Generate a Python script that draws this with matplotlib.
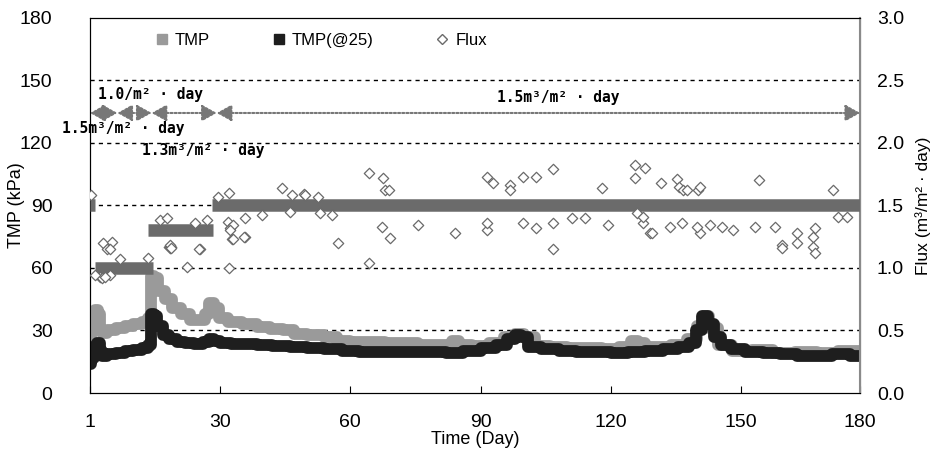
import matplotlib
matplotlib.use('Agg')
from matplotlib import pyplot as plt
from matplotlib.lines import Line2D

plt.rcParams['font.family'] = ['Liberation Sans Narrow', 'Liberation Sans', 'DejaVu Sans']

# TMP (gray): day, kPa
tmp_day = [0, 0.5, 1.0, 1.5, 2.2, 2.6, 3, 5, 7, 9, 11, 13, 13.8, 14.3, 15, 16.5, 18, 20, 22, 24,
           26, 27, 28, 29, 30.5, 33, 37, 40, 43, 46, 48, 52, 56, 58, 62, 66, 70, 74, 77, 80,
           83, 84, 86, 90, 94, 97, 99, 101, 104, 108, 112, 116, 120, 124, 125.5, 127, 129, 132,
           136, 139, 141, 142, 143.5, 146, 150, 155, 160, 165, 170, 175, 177.5]
tmp_val = [24, 31, 38, 40, 38, 30, 29, 30, 31, 32, 33, 34, 36, 56, 55, 49, 45, 41, 38, 35,
           35, 38, 43, 41, 36, 34, 33, 31.5, 30.5, 30, 28.5, 28, 27, 25, 24.5, 24.5, 24, 24, 23, 23,
           23, 25, 23, 22.5, 24, 27, 28.5, 27, 22.5, 22, 21.5, 21.5, 21, 22, 25, 24, 22, 22,
           23, 26, 32, 37, 31, 23, 20, 20.5, 19, 19.5, 19, 20, 20]

# TMP corrected to 25 C (black)
tmp25_day = [0, 0.5, 1.2, 2.0, 2.6, 3, 5, 7, 9, 11, 13, 13.8, 14.3, 15, 16, 17.5, 19, 21, 23, 25,
             27, 28, 29, 31, 34, 37, 40, 44, 48, 52, 56, 60, 64, 68, 72, 76, 80, 84, 88, 92,
             95, 97, 98.7, 100, 102, 106, 110, 114, 118, 122, 126, 130, 134, 137, 139, 140.5,
             141.8, 143, 144.5, 146.5, 149, 153, 157, 161, 165, 169, 173, 177.5]
tmp25_val = [14, 17, 22, 24, 20, 18, 18.5, 19, 20, 20.5, 21.5, 23, 38, 37, 32, 28, 26, 24.5, 24, 23.5,
             24.5, 26, 25, 24, 23.5, 23.5, 23, 22.5, 22, 21.5, 21, 20, 19.5, 19.5, 19.5, 19.5, 19.5, 19, 20, 21.5,
             23, 26, 28, 27, 22, 21, 20, 19.5, 19.5, 19, 19.5, 20, 21, 22, 24, 30,
             37, 33, 27, 23, 21, 19.5, 19, 18.5, 18, 18, 18.5, 18]

# flux set-points (dense band): start day, end day, flux
flux_start = [0, 1.2, 13.4, 28.0]
flux_end = [1.2, 14.6, 28.4, 177.5]
flux_set = [1.5, 1.0, 1.3, 1.5]

# scattered flux readings (open diamonds)
out_day = [3.0, 5.1, 3.9, 4.6, 2.3, 4.6, 13.4, 6.9, 22.4, 32.0, 25.4, 16.1, 17.7, 24.2, 27.0,
           32.7, 35.7, 31.8, 32.3, 33.0, 35.7, 29.5, 32.0, 39.7, 44.3, 46.6, 49.3, 52.6,
           46.1, 53.0, 55.8, 57.2, 49.6, 64.3, 67.5, 68.0, 69.0, 64.3, 67.3, 69.2, 75.6, 84.1,
           91.5, 92.9, 91.5, 91.5, 96.8, 96.8, 99.8, 102.8, 106.7, 106.7, 102.8, 106.7, 111.0,
           118.0, 119.4, 125.6, 127.9, 125.6, 127.5, 129.0, 114.0, 99.8, 131.6, 135.3, 135.8,
           136.7, 137.6, 140.2, 140.6, 154.2, 171.3, 143.0, 129.6, 133.7, 136.5, 140.6, 140.0,
           145.7, 148.2, 153.3, 159.5, 159.5, 163.0, 163.0, 166.7, 166.7, 167.1, 167.1, 157.9,
           172.4, 174.5, 126.0, 127.5, 2.8, 3.5, 1.2, 25.1, 32.3, 33.0, 35.5, 0.3, 18.4, 18.6]
out_flux = [1.20, 1.21, 1.15, 1.15, 0.93, 0.94, 1.08, 1.07, 1.01, 1.00, 1.15, 1.38, 1.40, 1.36, 1.38,
            1.23, 1.25, 1.37, 1.32, 1.34, 1.40, 1.57, 1.60, 1.42, 1.64, 1.58, 1.59, 1.57,
            1.45, 1.44, 1.42, 1.20, 1.58, 1.76, 1.72, 1.62, 1.62, 1.04, 1.33, 1.24, 1.34, 1.28,
            1.73, 1.68, 1.30, 1.36, 1.66, 1.62, 1.73, 1.73, 1.79, 1.15, 1.32, 1.36, 1.40,
            1.64, 1.34, 1.82, 1.80, 1.72, 1.36, 1.28, 1.40, 1.36, 1.68, 1.71, 1.65,
            1.62, 1.62, 1.62, 1.65, 1.70, 1.62, 1.34, 1.28, 1.33, 1.36, 1.28, 1.33,
            1.33, 1.30, 1.33, 1.18, 1.16, 1.28, 1.20, 1.25, 1.17, 1.12, 1.32, 1.33,
            1.41, 1.41, 1.44, 1.41, 0.92, 0.93, 0.94, 1.15, 1.30, 1.23, 1.25, 1.58, 1.18, 1.16]

# operating periods for the arrows above the data
period_edges = [0, 6.3, 14.2, 29.2, 177.5]
period_labels = ['1.5m³/m² · day', '1.0/m² · day', '1.3m³/m² · day', '1.5m³/m² · day']
label_x = [7.6, 14.0, 26.0, 108.0]
label_y = [127, 143.5, 116.5, 142]

xtick_pos = [0, 30, 60, 90, 120, 150, 177.5]
xtick_lab = ['1', '30', '60', '90', '120', '150', '180']

fig = plt.figure(figsize=(9.38, 4.61), dpi=100)
ax = fig.add_axes([0.096, 0.1475, 0.821, 0.8135])
ax2 = ax.twinx()

# TMP lines
ax.plot(tmp_day, tmp_val, color='#9a9a9a', lw=8.5, drawstyle='steps-mid', solid_capstyle='butt', zorder=3)
ax.plot(tmp25_day, tmp25_val, color='#1e1e1e', lw=8.5, drawstyle='steps-mid', solid_capstyle='butt', zorder=4)

# gridlines
for g in [30, 60, 90, 120, 150]:
	ax.axhline(g, color='black', lw=1, ls=(0, (3, 3)), zorder=1)

# flux
ax2.hlines(flux_set, flux_start, flux_end, color='#6b6b6b', lw=9, zorder=3)
ax2.scatter([18.4], [1.17], marker='D', s=40, color='#6b6b6b', zorder=3)
ax2.scatter(out_day, out_flux, marker='D', s=28, facecolor='white', edgecolor='#6a6a6a', lw=0.9, zorder=4)

# period arrows
arrow_y = 134.4
for i in range(len(period_edges) - 1):
	ax.annotate('', xy=(period_edges[i + 1], arrow_y), xytext=(period_edges[i], arrow_y),
	            arrowprops=dict(arrowstyle='<|-|>,head_length=0.9,head_width=0.5', color='#777777',
	                            lw=1.5, linestyle=(0, (1, 1)), shrinkA=0, shrinkB=0), zorder=5)
for t, x, y in zip(period_labels, label_x, label_y):
	ax.text(x, y, t, family='DejaVu Sans Mono', fontweight='bold', fontsize=10.5, ha='center', va='center', zorder=6)

ax.set_xlim(0, 177.5)
ax.set_ylim(0, 180)
ax2.set_ylim(0, 3.0)
ax.set_xticks(xtick_pos)
ax.set_xticklabels(xtick_lab)
ax.set_yticks(range(0, 181, 30))
ax2.set_yticks([0, 0.5, 1.0, 1.5, 2.0, 2.5, 3.0])
ax2.set_yticklabels(['%.1f' % v for v in [0, 0.5, 1.0, 1.5, 2.0, 2.5, 3.0]])

ax.tick_params(axis='x', direction='in', length=5, labelsize=14, pad=15)
ax.tick_params(axis='y', length=0, labelsize=14, pad=27)
ax2.tick_params(axis='y', length=0, labelsize=14, pad=12)

for s in ['left', 'bottom', 'top']:
	ax.spines[s].set_color('black')
ax2.spines['right'].set_color('#8a8a8a')
ax2.spines['right'].set_linewidth(1.5)

ax.set_xlabel('Time (Day)', fontsize=13, labelpad=0)
ax.set_ylabel('TMP (kPa)', fontsize=13)
ax.yaxis.set_label_coords(-0.084, 0.5)
ax2.set_ylabel('Flux (m³/m² · day)', fontsize=12.5)
ax2.yaxis.set_label_coords(1.071, 0.5)

# legend
handles = [Line2D([], [], ls='', marker='s', ms=7, color='#9a9a9a'),
           Line2D([], [], ls='', marker='s', ms=7, color='#1e1e1e'),
           Line2D([], [], ls='', marker='D', ms=5, mfc='white', mec='#6a6a6a')]
ax2.legend(handles, ['TMP', 'TMP(@25)', 'Flux'], loc='upper left', bbox_to_anchor=(0.065, 1.0),
           ncol=3, frameon=False, fontsize=12, handlelength=0.8, handletextpad=0.4, columnspacing=3.7)

plt.savefig('out.png', dpi=100)
